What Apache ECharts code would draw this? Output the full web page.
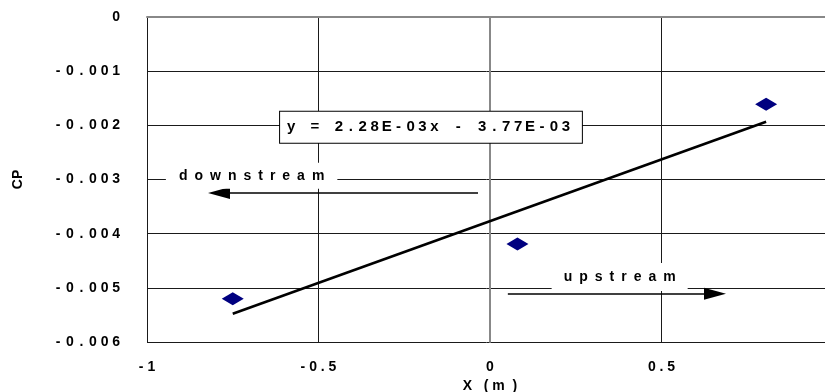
<!DOCTYPE html>
<html>
<head>
<meta charset="utf-8">
<script src="https://cdn.jsdelivr.net/npm/echarts@6/dist/echarts.min.js"></script>
<style>
html,body{margin:0;padding:0;background:#fff;}
#chart{width:825px;height:392px;}
</style>
</head>
<body>
<div id="chart"></div>
<script>
// ---- data ----
var pointX = [-0.75, 0.08, 0.805];
var pointY = [-0.0052, -0.00419, -0.00161];
var trendSlope = 2.28e-3;
var trendIntercept = -3.77e-3;
var equationText = 'y = 2.28E-03x - 3.77E-03';
var xTicks = [-1, -0.5, 0, 0.5, 1];
var yTicks = [0, -0.001, -0.002, -0.003, -0.004, -0.005, -0.006];
var downArrow = {from: [-0.035, -0.00325], to: [-0.79, -0.00325], label: 'downstream', labelAt: [-0.695, -0.00293]};
var upArrow = {from: [0.052, -0.00511], to: [0.656, -0.00511], label: 'upstream', labelAt: [0.378, -0.0048]};
var eqAt = [-0.612, -0.00175];
var xName = 'X (m)';
var yName = 'CP';

var FONT = 'Arial, "Liberation Sans", sans-serif';
function sp(s) { return String(s).split('').join(' '); }
function spWide(s) { return String(s).split('').join('\u2002'); }
function mono(s, key) {
  return String(s).split('').map(function (c) { return '{' + key + '|' + c + '}'; }).join('');
}

var trendXs = [Math.min.apply(null, pointX), Math.max.apply(null, pointX)];
var trendData = trendXs.map(function (x) { return [x, trendSlope * x + trendIntercept]; });
var scatterData = pointX.map(function (x, i) { return [x, pointY[i]]; });

var chart = echarts.init(document.getElementById('chart'), null, {renderer: 'canvas'});

function arrowLine(a) {
  return [{coord: a.from}, {coord: a.to}];
}

var option = {
  animation: false,
  backgroundColor: '#fff',
  grid: {left: 147, right: -8, top: 17, bottom: 50, containLabel: false, outerBoundsMode: 'none'},
  xAxis: {
    type: 'value',
    min: xTicks[0], max: xTicks[xTicks.length - 1], interval: 0.5,
    name: 'X' + '   ' + '( m  )',
    nameLocation: 'middle', nameGap: 35,
    nameTextStyle: {fontFamily: FONT, fontWeight: 'bold', fontSize: 14, color: '#000', verticalAlign: 'top'},
    axisLine: {show: true, lineStyle: {color: '#888', width: 2}},
    axisTick: {show: false},
    axisLabel: {
      showMaxLabel: false,
      margin: 18,
      fontFamily: FONT, fontWeight: 'bold', fontSize: 14, color: '#000',
      formatter: function (v) { return sp(String(Math.round(v * 10) / 10)); }
    },
    splitLine: {show: true, lineStyle: {color: '#1a1a1a', width: 1}}
  },
  yAxis: {
    type: 'value',
    min: yTicks[yTicks.length - 1], max: yTicks[0], interval: 0.001,
    name: yName,
    nameLocation: 'middle', nameGap: 122, nameRotate: 90,
    nameTextStyle: {fontFamily: FONT, fontWeight: 'bold', fontSize: 14, color: '#000'},
    axisLine: {show: true, lineStyle: {color: '#888', width: 2}},
    axisTick: {show: false},
    axisLabel: {
      margin: 25,
      fontFamily: FONT, fontWeight: 'bold', fontSize: 14, color: '#000',
      formatter: function (v) {
        var r = Math.round(v * 1000) / 1000;
        return mono(r === 0 ? '0' : r.toFixed(3), 'm');
      },
      rich: {
        m: {width: 11.6, align: 'center', fontFamily: FONT, fontWeight: 'bold', fontSize: 14, color: '#000'}
      }
    },
    splitLine: {show: true, lineStyle: {color: '#1a1a1a', width: 1}}
  },
  series: [
    {
      type: 'line',
      data: trendData,
      symbol: 'none',
      lineStyle: {color: '#000', width: 2.6},
      z: 3
    },
    {
      type: 'scatter',
      data: scatterData,
      symbol: 'diamond',
      symbolSize: [22, 13],
      itemStyle: {color: '#000080', opacity: 1},
      z: 4
    },
    {
      type: 'line',
      data: [],
      z: 6,
      markLine: {
        silent: true,
        symbol: ['none', 'triangle'],
        symbolSize: [12, 22],
        label: {show: false},
        lineStyle: {color: '#000', width: 1.5, type: 'solid'},
        data: [arrowLine(downArrow), arrowLine(upArrow)]
      }
    }
  ]
};
chart.setOption(option);

function px(c) { return chart.convertToPixel({gridIndex: 0}, c); }

var p1 = px(downArrow.labelAt);
var p2 = px(upArrow.labelAt);
var pe = px(eqAt);

chart.setOption({
  graphic: [
    {
      type: 'text', z: 5,
      x: p1[0], y: p1[1],
      style: {
        text: spWide(downArrow.label),
        font: 'bold 14px ' + FONT, fill: '#000',
        align: 'center', verticalAlign: 'middle',
        backgroundColor: '#fff', padding: [6, 13, 6, 13]
      }
    },
    {
      type: 'text', z: 5,
      x: p2[0], y: p2[1],
      style: {
        text: spWide(upArrow.label),
        font: 'bold 14px ' + FONT, fill: '#000',
        align: 'center', verticalAlign: 'middle',
        backgroundColor: '#fff', padding: [6, 12, 8, 12]
      }
    },
    {
      type: 'text', z: 7,
      x: pe[0], y: pe[1],
      style: {
        text: mono(equationText, 'e'),
        rich: {
          e: {width: 11.95, height: 17, lineHeight: 17, align: 'center', fontFamily: FONT, fontWeight: 'bold', fontSize: 15, fill: '#000', color: '#000'}
        },
        font: 'bold 15px ' + FONT, fill: '#000',
        align: 'left', verticalAlign: 'top',
        backgroundColor: '#fff', borderColor: '#000', borderWidth: 1,
        padding: [7, 10, 7, 5]
      }
    }
  ]
});
</script>
</body>
</html>
